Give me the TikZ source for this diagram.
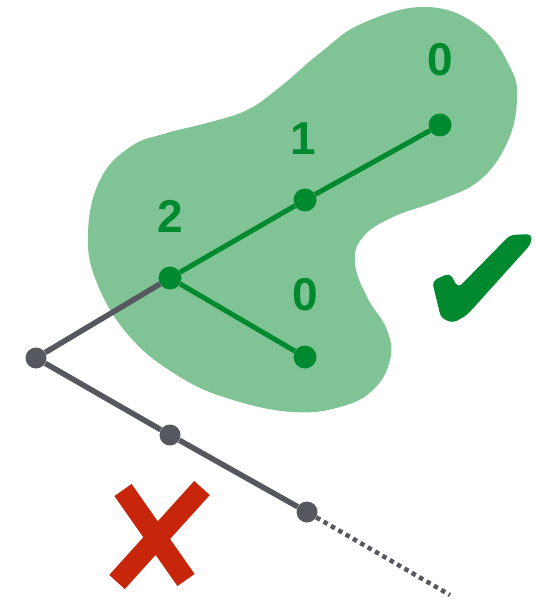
\documentclass[tikz,border=0pt]{standalone}
\usepackage{fontspec}
\setmainfont{Liberation Sans}
\definecolor{blobgreen}{HTML}{80C495}
\definecolor{treegreen}{HTML}{00892E}
\definecolor{pathgray}{HTML}{55585F}
\definecolor{crossred}{HTML}{C8260A}

\begin{document}
\begin{tikzpicture}[x=1pt, y=-1pt,
		gnode/.style={circle, fill=treegreen, inner sep=0pt, minimum size=23pt},
		knode/.style={circle, fill=pathgray, inner sep=0pt, minimum size=21pt},
		num/.style={text=treegreen, font=\fontsize{46}{46}\selectfont\bfseries},
		gedge/.style={treegreen, line width=5pt},
		kedge/.style={pathgray, line width=5.5pt}]
				\useasboundingbox (0,0) rectangle (535,601);
				
				% the blob round the subtree
				\fill[blobgreen] plot[smooth cycle, tension=0.7] coordinates {
					(427,7) (480,27) (510,67) (517,100) (507,143) (480,180) (440,200)
					(393,217) (363,237) (355,263) (367,297) (387,330) (390,360)
					(373,390) (340,407) (293,412) (233,400) (180,377) (130,337)
					(97,283) (88,233) (100,180) (130,147) (167,133) (207,123)
					(247,110) (280,87) (320,53) (363,23)};
				
				\path (36, 358) node[knode] (r){}
				(170, 435) node[knode] (b){}
				(307, 512) node[knode] (c){}
				(170, 278) node[gnode] (t2){}
				(305, 200) node[gnode] (t1){}
				(440, 125) node[gnode] (t0a){}
				(305, 357) node[gnode] (t0b){};
				\coordinate (e) at (450, 595);
				
				\path (170, 216) node[num] (l2){2}
				(303, 139) node[num] (l1){1}
				(440, 60) node[num] (l0a){0}
				(305, 295) node[num] (l0b){0};
				
				\draw[kedge] (t2) -- (r) -- (b) -- (c);
				\draw[pathgray, line width=4.5pt, dash pattern=on 4.5pt off 4pt] (c) -- (e);
				\draw[gedge] (t0a) -- (t1) -- (t2) -- (t0b);
				
				% check mark
				\fill[treegreen, rounded corners=5pt] (432,281) -- (450,273) -- (458,288) -- (510,235)
				-- (532,234) -- (531,244) -- (467,315) -- (453,323) -- (441,318) -- cycle;
				
				% cross
				\draw[crossred, line width=21pt] (123,490) -- (186,580)
				(202,488) -- (117,582);
			\end{tikzpicture}
\end{document}
